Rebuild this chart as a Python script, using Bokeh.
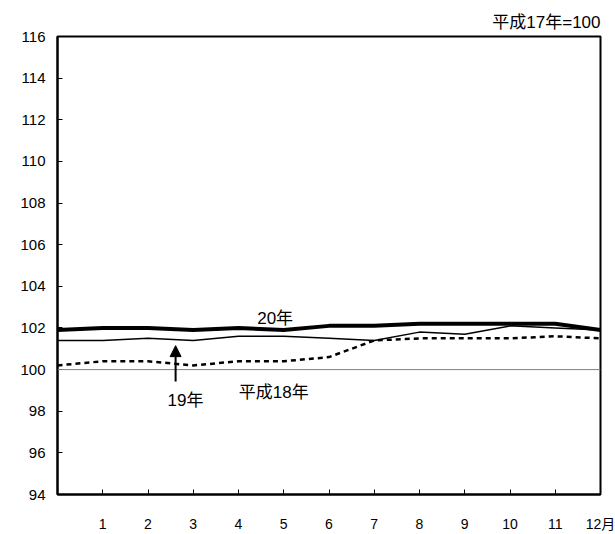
from bokeh.plotting import figure
from bokeh.models import Span, Label, Arrow, NormalHead, FixedTicker, Title
from bokeh.embed import file_html
from bokeh.resources import INLINE

# ---- data ----
months = [0, 1, 2, 3, 4, 5, 6, 7, 8, 9, 10, 11, 12]
month_ticks = [1, 2, 3, 4, 5, 6, 7, 8, 9, 10, 11, 12]
month_labels = ["1", "2", "3", "4", "5", "6", "7", "8", "9", "10", "11", "12月"]
y_ticks = [94, 96, 98, 100, 102, 104, 106, 108, 110, 112, 114, 116]

h20 = [101.9, 102.0, 102.0, 101.9, 102.0, 101.9, 102.1, 102.1, 102.2, 102.2, 102.2, 102.2, 101.9]
h19 = [101.4, 101.4, 101.5, 101.4, 101.6, 101.6, 101.5, 101.4, 101.8, 101.7, 102.1, 102.0, 101.9]
h18 = [100.2, 100.4, 100.4, 100.2, 100.4, 100.4, 100.6, 101.4, 101.5, 101.5, 101.5, 101.6, 101.5]

base_value = 100
note_text = "平成17年=100"
label_texts = ["20年", "19年", "平成18年"]
label_x = [4.81, 2.83, 4.78]
label_y = [102.46, 98.52, 98.88]
arrow_x = 2.61
arrow_from = 99.43
arrow_to = 101.15

JP = "Liberation Sans, 'Noto Sans CJK JP'"

p = figure(width=615, height=534, x_range=(0, 12), y_range=(94, 116),
           output_backend="svg", toolbar_location=None,
           min_border_left=57, min_border_right=15, min_border_top=36, min_border_bottom=38)
p.background_fill_color = "white"
p.border_fill_color = "white"
p.outline_line_color = "black"
p.outline_line_width = 2
p.xgrid.visible = False
p.ygrid.visible = False

p.xaxis.ticker = FixedTicker(ticks=month_ticks)
p.xaxis.major_label_overrides = {t: l for t, l in zip(month_ticks, month_labels)}
p.xaxis.major_tick_in = 5
p.xaxis.major_tick_out = 0
p.xaxis.minor_tick_line_color = None
p.xaxis.axis_line_color = "black"
p.xaxis.axis_line_width = 2
p.xaxis.major_tick_line_color = "black"
p.xaxis.major_label_standoff = 21
p.xaxis.major_label_text_font = JP
p.xaxis.major_label_text_font_size = "14px"
p.xaxis.major_label_text_color = "black"

p.yaxis.ticker = FixedTicker(ticks=y_ticks)
p.yaxis.major_tick_in = 5
p.yaxis.major_tick_out = 0
p.yaxis.minor_tick_line_color = None
p.yaxis.axis_line_color = "black"
p.yaxis.axis_line_width = 2
p.yaxis.major_tick_line_color = "black"
p.yaxis.major_label_standoff = 12
p.yaxis.major_label_text_font = JP
p.yaxis.major_label_text_font_size = "15px"
p.yaxis.major_label_text_color = "black"

p.add_layout(Span(location=base_value, dimension="width", line_color="#808080", line_width=1))

p.line(months, h18, line_color="black", line_width=2.5, line_dash="5 4")
p.line(months, h19, line_color="black", line_width=1.5)
p.line(months, h20, line_color="black", line_width=4)

for t, x, y in zip(label_texts, label_x, label_y):
    p.add_layout(Label(x=x, y=y, text=t, text_align="center", text_baseline="middle",
                       text_font=JP, text_font_size="17px", text_color="black"))

p.add_layout(Arrow(end=NormalHead(size=11, fill_color="black", line_color="black"),
                   x_start=arrow_x, y_start=arrow_from, x_end=arrow_x, y_end=arrow_to,
                   line_color="black", line_width=2))

p.add_layout(Title(text=note_text, align="right", text_font=JP, text_font_size="17px",
                   text_font_style="normal", text_color="black", standoff=10), "above")

open("out.html", "w").write(file_html(p, INLINE))
